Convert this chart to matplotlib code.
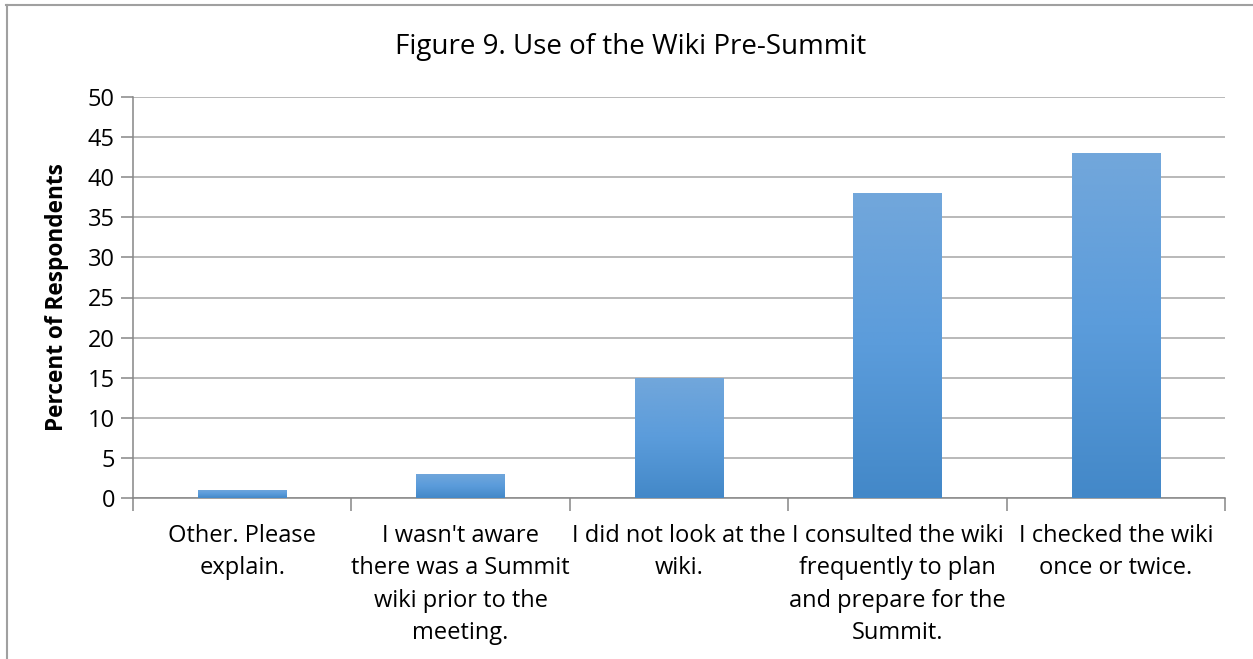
import matplotlib
matplotlib.use("Agg")
import matplotlib.pyplot as plt
import numpy as np
from matplotlib.colors import LinearSegmentedColormap
from matplotlib.lines import Line2D

categories = [
    "Other. Please\nexplain.",
    "I wasn't aware\nthere was a Summit\nwiki prior to the\nmeeting.",
    "I did not look at the\nwiki.",
    "I consulted the wiki\nfrequently to plan\nand prepare for the\nSummit.",
    "I checked the wiki\nonce or twice.",
]
values = [1, 3, 15, 38, 43]
yticks = list(range(0, 51, 5))
title = "Figure 9. Use of the Wiki Pre-Summit"
ylabel = "Percent of Respondents"

FONT = ["Open Sans", "DejaVu Sans"]
plt.rcParams['font.family'] = FONT

W, H = 1253, 659
fig = plt.figure(figsize=(W / 100, H / 100), dpi=100)
ax = fig.add_axes([133 / W, 1 - 498 / H, (1225 - 133) / W, (498 - 97) / H])

x = np.arange(len(values))
bars = ax.bar(x, values, width=0.405, color="#5b9bd5", zorder=2)

cmap = LinearSegmentedColormap.from_list("g", ["#4388c8", "#5b9cdb", "#72a7db"])
grad = np.linspace(0, 1, 256).reshape(-1, 1)
for b in bars:
    bx, by = b.get_x(), b.get_y()
    bw, bh = b.get_width(), b.get_height()
    im = ax.imshow(grad, cmap=cmap, aspect="auto", origin="lower",
                   extent=[bx, bx + bw, by, by + bh], zorder=3)
    im.set_clip_path(b)

ax.set_xlim(-0.5, len(values) - 0.5)
ax.set_ylim(0, 50)
ax.set_yticks(yticks)
ax.set_yticklabels([str(t) for t in yticks], fontsize=17)
ax.yaxis.grid(True, color="#a6a6a6", linewidth=1.1, zorder=0)
ax.set_axisbelow(True)

ax.set_xticks(x)
ax.set_xticklabels(categories, fontsize=17, linespacing=1.45)
ax.tick_params(axis="x", length=0, pad=19)
ax.set_xticks(np.arange(-0.5, len(values), 1), minor=True)
ax.tick_params(axis="x", which="minor", length=9, width=1.1, color="#868686", direction="out")
ax.tick_params(axis="y", length=9, width=1.1, color="#868686", direction="out", pad=4)

for s in ["top", "right"]:
    ax.spines[s].set_visible(False)
for s in ["left", "bottom"]:
    ax.spines[s].set_color("#868686")
    ax.spines[s].set_linewidth(1.1)

ax.set_ylabel(ylabel, fontsize=16.3, fontweight="bold")
ax.yaxis.set_label_coords(-(133 - 69) / (1225 - 133), 0.5)

fig.text(631 / W, 1 - 47 / H, title, ha="center", va="center", fontsize=20)

fig.add_artist(Line2D([6 / W, 1], [1 - 4.5 / H, 1 - 4.5 / H], color="#a0a0a0", lw=1.5, transform=fig.transFigure))
fig.add_artist(Line2D([6.5 / W, 6.5 / W], [0, 1 - 4.5 / H], color="#a0a0a0", lw=1.5, transform=fig.transFigure))

fig.savefig("out.png", dpi=100)
